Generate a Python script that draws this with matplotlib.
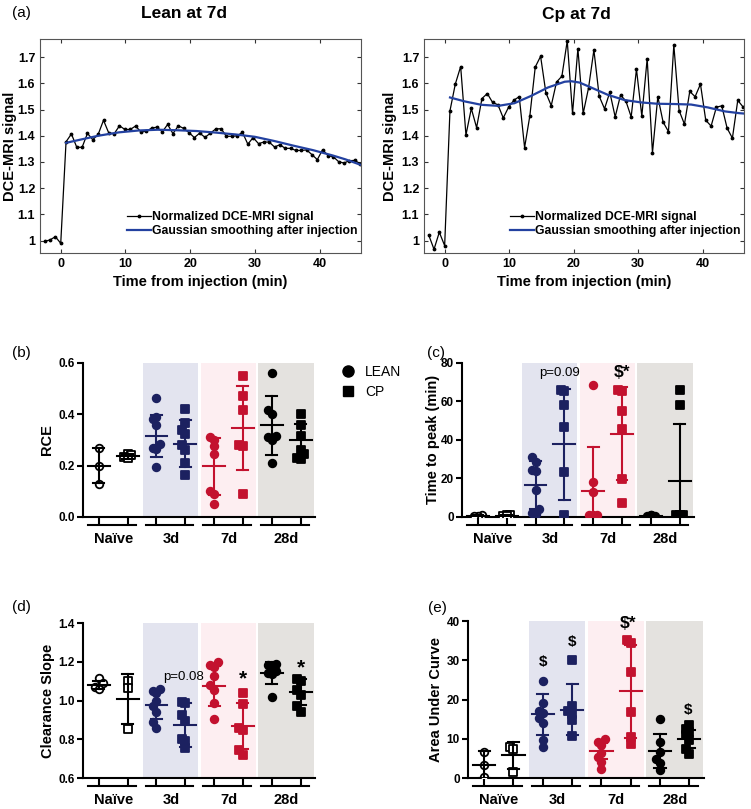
import matplotlib
matplotlib.use('Agg')
import matplotlib.pyplot as plt
import matplotlib.transforms as mtransforms
from matplotlib.lines import Line2D
from matplotlib.ticker import FuncFormatter

plt.rcParams['font.family'] = ['Liberation Sans', 'DejaVu Sans']

# ---- panel (a): DCE-MRI time courses ----
time_min = [-2.48, -1.65, -0.83, 0.00, 0.82, 1.65, 2.48, 3.30, 4.13, 4.95,
            5.78, 6.61, 7.43, 8.26, 9.08, 9.91, 10.74, 11.56, 12.39, 13.21,
            14.04, 14.87, 15.69, 16.52, 17.34, 18.17, 19.00, 19.82, 20.65, 21.47,
            22.30, 23.13, 23.95, 24.78, 25.60, 26.43, 27.26, 28.08, 28.91, 29.73,
            30.56, 31.39, 32.21, 33.04, 33.86, 34.69, 35.52, 36.34, 37.17, 37.99,
            38.82, 39.65, 40.47, 41.30, 42.12, 42.95, 43.78, 44.60, 45.43, 46.25]

lean_signal = [0.997, 1.003, 1.015, 0.990,
               1.377, 1.407, 1.356, 1.356, 1.409, 1.385, 1.405, 1.459, 1.410, 1.408,
               1.438, 1.424, 1.424, 1.437, 1.415, 1.417, 1.429, 1.433, 1.415, 1.443,
               1.408, 1.438, 1.428, 1.412, 1.393, 1.410,
               1.394, 1.410, 1.426, 1.427, 1.398, 1.398, 1.400, 1.413, 1.368, 1.393,
               1.370, 1.376, 1.376, 1.357, 1.366, 1.352, 1.352, 1.344, 1.344, 1.346,
               1.328, 1.309, 1.347, 1.324, 1.320, 1.301, 1.296, 1.305, 1.306, 1.294]

cp_signal = [1.022, 0.967, 1.032, 0.981,
             1.495, 1.597, 1.664, 1.403, 1.504, 1.431, 1.542, 1.561, 1.527, 1.518,
             1.468, 1.509, 1.536, 1.549, 1.355, 1.477, 1.662, 1.703, 1.564, 1.515,
             1.605, 1.627, 1.762, 1.485, 1.732,
             1.485, 1.582, 1.727, 1.551, 1.503, 1.566, 1.472, 1.555, 1.533, 1.472,
             1.654, 1.475, 1.694, 1.335, 1.549, 1.452, 1.416, 1.746, 1.496, 1.444,
             1.569, 1.549, 1.597, 1.459, 1.437, 1.509, 1.514, 1.429, 1.391, 1.535,
             1.510]

lean_smooth_t = [0.82, 3.0, 5.8, 9.0, 12.0, 15.0, 18.0, 21.0, 24.0, 27.0, 30.0,
                 33.0, 36.0, 39.0, 42.0, 44.0, 46.25]
lean_smooth = [1.373, 1.385, 1.400, 1.413, 1.420, 1.423, 1.421, 1.418, 1.412,
               1.405, 1.396, 1.380, 1.362, 1.345, 1.325, 1.310, 1.290]

cp_smooth_t = [0.83, 3.1, 5.7, 8.3, 10.8, 13.4, 16.0, 18.6, 19.6, 20.9, 22.7,
               25.3, 27.9, 30.5, 33.0, 35.6, 38.2, 40.8, 43.4, 45.7, 46.25]
cp_smooth = [1.546, 1.531, 1.518, 1.514, 1.524, 1.552, 1.584, 1.606, 1.608, 1.603,
             1.584, 1.556, 1.536, 1.527, 1.522, 1.521, 1.519, 1.508, 1.493, 1.486, 1.485]

# ---- panels (b)-(e): scatter with mean +/- SD ----
groups = ['Naïve', '3d', '7d', '28d']
group_colors = ['black', '#1c2160', '#c3122f', 'black']
shade_colors = [None, '#e3e4ef', '#fdeef1', '#e4e2df']

rce_lean = [[0.27, 0.20, 0.13], [0.465, 0.39, 0.38, 0.36, 0.285, 0.27, 0.265, 0.195],
            [0.31, 0.30, 0.275, 0.245, 0.10, 0.09, 0.05], [0.56, 0.415, 0.40, 0.315, 0.31, 0.30, 0.21]]
rce_cp = [[0.245, 0.24, 0.235, 0.23], [0.42, 0.365, 0.34, 0.325, 0.28, 0.26, 0.21, 0.165],
          [0.55, 0.47, 0.415, 0.28, 0.275, 0.09], [0.40, 0.36, 0.315, 0.26, 0.245, 0.23, 0.225]]
rce_lean_mean = [0.200, 0.315, 0.197, 0.357]
rce_lean_sd = [0.068, 0.083, 0.110, 0.114]
rce_cp_mean = [0.236, 0.286, 0.347, 0.298]
rce_cp_sd = [0.009, 0.090, 0.165, 0.064]

ttp_lean = [[0.8, 0.5, 0.6], [31.0, 28.5, 24.5, 24.0, 14.0, 4.3, 2.0, 1.5],
            [68.5, 18.3, 13.0, 1.2, 1.0, 0.8, 0.6], [0.8, 0.6, 0.5, 0.7, 0.9]]
ttp_cp = [[0.9, 0.6, 0.8, 0.5], [66.0, 65.5, 58.3, 46.6, 23.5, 1.2],
          [66.0, 65.5, 54.8, 45.6, 19.7, 7.3], [66.0, 58.3, 1.2, 1.0, 0.8, 1.1]]
ttp_lean_mean = [0.7, 16.5, 13.4, 0.7]
ttp_lean_sd = [0.2, 12.4, 23.0, 0.2]
ttp_cp_mean = [0.7, 37.7, 43.2, 18.6]
ttp_cp_sd = [0.2, 28.8, 24.2, 29.7]

cs_lean = [[1.115, 1.09, 1.07, 1.06], [1.06, 1.05, 1.04, 1.00, 0.97, 0.94, 0.89, 0.86],
           [1.20, 1.185, 1.175, 1.125, 1.08, 1.055, 0.985, 0.905],
           [1.19, 1.185, 1.17, 1.15, 1.14, 1.135, 1.02]]
cs_cp = [[1.10, 1.065, 0.855], [0.99, 0.985, 0.925, 0.895, 0.80, 0.79, 0.755],
         [1.04, 0.98, 0.86, 0.85, 0.745, 0.72], [1.11, 1.10, 1.055, 1.03, 0.97, 0.94]]
cs_lean_mean = [1.082, 0.975, 1.077, 1.142]
cs_lean_sd = [0.020, 0.070, 0.103, 0.055]
cs_cp_mean = [1.008, 0.874, 0.868, 1.043]
cs_cp_sd = [0.127, 0.112, 0.120, 0.067]

auc_lean = [[6.6, 3.2, 0.3], [24.8, 19.2, 17.1, 16.6, 15.4, 13.9, 9.8, 7.9],
            [9.9, 9.2, 8.5, 6.5, 5.4, 4.1, 2.4], [15.1, 9.2, 6.6, 4.9, 3.7, 2.0]]
auc_cp = [[7.9, 7.5, 1.5], [30.0, 18.4, 17.1, 16.4, 14.7, 10.7],
          [35.3, 34.3, 27.1, 16.9, 10.5, 8.6], [13.4, 12.6, 11.7, 10.9, 9.8, 7.5, 6.2]]
auc_lean_mean = [3.4, 16.2, 6.8, 6.9]
auc_lean_sd = [3.5, 5.3, 2.0, 4.3]
auc_cp_mean = [5.8, 17.4, 22.1, 10.0]
auc_cp_sd = [3.4, 6.5, 11.9, 2.3]


def matlab_panel(ax, t, sig, st, sm):
    ax.plot(t, sig, color='black', lw=0.9, marker='.', ms=3.5,
            label='Normalized DCE-MRI signal')
    ax.plot(st, sm, color='#2341a0', lw=1.6, label='Gaussian smoothing after injection')
    ax.set_xlim(-3.2, 46.4)
    ax.set_ylim(0.953, 1.769)
    ax.set_xticks([0, 10, 20, 30, 40])
    ax.set_yticks([1.0, 1.1, 1.2, 1.3, 1.4, 1.5, 1.6, 1.7])
    ax.yaxis.set_major_formatter(FuncFormatter(lambda v, p: '%g' % round(v, 2)))
    ax.tick_params(direction='in', top=True, right=True, length=3, width=0.8,
                   labelsize=9, colors='#333333', labelcolor='black', pad=3.5)
    for lab in ax.get_xticklabels() + ax.get_yticklabels():
        lab.set_fontweight('bold')
    for s in ax.spines.values():
        s.set_color('#555555')
        s.set_linewidth(0.8)
    ax.set_xlabel('Time from injection (min)', fontsize=10.5, fontweight='bold')
    ax.set_ylabel('DCE-MRI signal', fontsize=10.5, fontweight='bold')
    ax.xaxis.set_label_coords(0.5, -0.105)
    ax.legend(loc='lower right', bbox_to_anchor=(1.015, 0.035), frameon=False,
              prop={'weight': 'bold', 'size': 8.8}, handlelength=1.9,
              handletextpad=0.1, labelspacing=0.15, borderpad=0.2)


def offsets(vals, span):
    order = sorted(range(len(vals)), key=lambda i: vals[i])
    cand = [0.0, -0.13, 0.13, -0.065, 0.065, -0.2, 0.2]
    placed = []
    off = [0.0] * len(vals)
    for i in order:
        for c in cand:
            if all(abs(c - pc) > 0.09 or abs(vals[i] - pv) > span * 0.04 for pc, pv in placed):
                off[i] = c
                break
        placed.append((off[i], vals[i]))
    return off


def dot_panel(ax, lean, cp, lmean, lsd, cmean, csd, ylim, yticks, fmt, ylabel, ylab_x):
    span = ylim[1] - ylim[0]
    for g in range(4):
        if shade_colors[g]:
            ax.axvspan(2 * g - 0.47, 2 * g + 1.45, ymax=1.0, color=shade_colors[g], lw=0, zorder=0)
        col = group_colors[g]
        for k, (vals, mean, sd, mk) in enumerate([(lean[g], lmean[g], lsd[g], 'o'),
                                                   (cp[g], cmean[g], csd[g], 's')]):
            x = 2 * g + k
            off = offsets(vals, span)
            face = 'white' if g == 0 else col
            ax.scatter([x + o for o in off], vals, marker=mk, s=30 if mk == 'o' else 26,
                       facecolor=face, edgecolor=col, linewidth=1.3, zorder=3)
            ax.plot([x - 0.38, x + 0.38], [mean, mean], color=col, lw=1.5, zorder=4)
            ax.plot([x, x], [mean - sd, mean + sd], color=col, lw=1.5, zorder=4)
            for e in (mean - sd, mean + sd):
                ax.plot([x - 0.19, x + 0.19], [e, e], color=col, lw=1.5, zorder=4)
    ax.set_xlim(-0.55, 7.5)
    ax.set_ylim(*ylim)
    ax.set_yticks(yticks)
    ax.yaxis.set_major_formatter(FuncFormatter(lambda v, p: fmt % v))
    ax.set_xticks(range(8))
    ax.set_xticklabels([])
    ax.tick_params(axis='x', direction='out', length=6, width=1.5)
    ax.tick_params(axis='y', direction='out', length=4, width=1.5, labelsize=8.5, pad=2)
    for lab in ax.get_yticklabels():
        lab.set_fontweight('bold')
    ax.spines['top'].set_visible(False)
    ax.spines['right'].set_visible(False)
    ax.spines['left'].set_linewidth(1.5)
    ax.spines['bottom'].set_linewidth(1.5)
    tr = mtransforms.blended_transform_factory(ax.transData, ax.transAxes)
    for g, name in enumerate(groups):
        c = 2 * g + 0.45
        ax.plot([c - 0.83, c + 0.83], [-0.05, -0.05], transform=tr, color='black',
                lw=1.5, clip_on=False)
        ax.text(2 * g + 0.5, -0.14, name, transform=tr, ha='center', va='center',
                fontsize=10.5, fontweight='bold')
    ax.set_ylabel(ylabel, fontsize=10.5, fontweight='bold')
    ax.yaxis.set_label_coords(ylab_x, 0.5)


fig = plt.figure(figsize=(7.51, 8.09), dpi=100)

axL = fig.add_axes([0.0533, 0.6873, 0.4274, 0.2645])
axR = fig.add_axes([0.5646, 0.6873, 0.4261, 0.2645])
matlab_panel(axL, time_min, lean_signal, lean_smooth_t, lean_smooth)
matlab_panel(axR, time_min, cp_signal, cp_smooth_t, cp_smooth)
axL.yaxis.set_label_coords(-0.072, 0.5)
axR.yaxis.set_label_coords(-0.085, 0.5)
fig.text(184 / 751, 1 - 14 / 809, 'Lean at 7d', fontsize=12.5, fontweight='bold',
         ha='center', va='center')
fig.text(576 / 751, 1 - 14 / 809, 'Cp at 7d', fontsize=12.5, fontweight='bold',
         ha='center', va='center')

axB = fig.add_axes([0.1105, 0.361, 0.309, 0.1904])
axC = fig.add_axes([0.6152, 0.361, 0.309, 0.1904])
axD = fig.add_axes([0.1105, 0.0383, 0.309, 0.1916])
axE = fig.add_axes([0.6232, 0.0383, 0.3142, 0.1940])

dot_panel(axB, rce_lean, rce_cp, rce_lean_mean, rce_lean_sd, rce_cp_mean, rce_cp_sd,
          (0, 0.6), [0, 0.2, 0.4, 0.6], '%.1f', 'RCE', -0.125)
dot_panel(axC, ttp_lean, ttp_cp, ttp_lean_mean, ttp_lean_sd, ttp_cp_mean, ttp_cp_sd,
          (0, 80), [0, 20, 40, 60, 80], '%d', 'Time to peak (min)', -0.095)
dot_panel(axD, cs_lean, cs_cp, cs_lean_mean, cs_lean_sd, cs_cp_mean, cs_cp_sd,
          (0.6, 1.4), [0.6, 0.8, 1.0, 1.2, 1.4], '%.1f', 'Clearance Slope', -0.12)
dot_panel(axE, auc_lean, auc_cp, auc_lean_mean, auc_lean_sd, auc_cp_mean, auc_cp_sd,
          (0, 40), [0, 10, 20, 30, 40], '%d', 'Area Under Curve', -0.106)

# significance marks
axC.text(2.82, 74.8, 'p=0.09', ha='center', va='center', fontsize=9.5)
axC.text(5.0, 74.8, '$*', ha='center', va='center', fontsize=12.5, fontweight='bold')
axD.text(2.93, 1.12, 'p=0.08', ha='center', va='center', fontsize=9.5)
axD.text(5.0, 1.11, '*', ha='center', va='center', fontsize=15, fontweight='bold')
axD.text(7.0, 1.17, '*', ha='center', va='center', fontsize=15, fontweight='bold')
axE.text(2.0, 29.6, '$', ha='center', va='center', fontsize=11, fontweight='bold')
axE.text(3.0, 34.6, '$', ha='center', va='center', fontsize=11, fontweight='bold')
axE.text(4.9, 39.3, '$*', ha='center', va='center', fontsize=12.5, fontweight='bold')
axE.text(6.95, 17.3, '$', ha='center', va='center', fontsize=11, fontweight='bold')

# panel letters
fig.text(12 / 751, 1 - 13 / 809, '(a)', fontsize=11, va='center')
fig.text(12 / 751, 1 - 353 / 809, '(b)', fontsize=11, va='center')
fig.text(427 / 751, 1 - 353 / 809, '(c)', fontsize=11, va='center')
fig.text(12 / 751, 1 - 607 / 809, '(d)', fontsize=11, va='center')
fig.text(428 / 751, 1 - 608 / 809, '(e)', fontsize=11, va='center')

handles = [Line2D([], [], marker='o', color='black', ls='', ms=8),
           Line2D([], [], marker='s', color='black', ls='', ms=7.5)]
fig.legend(handles, ['LEAN', 'CP'], loc='upper left', bbox_to_anchor=(322 / 751, 1 - 352 / 809),
           frameon=False, fontsize=10, handletextpad=0.2, labelspacing=0.45)

fig.savefig('out.png', dpi=100)
